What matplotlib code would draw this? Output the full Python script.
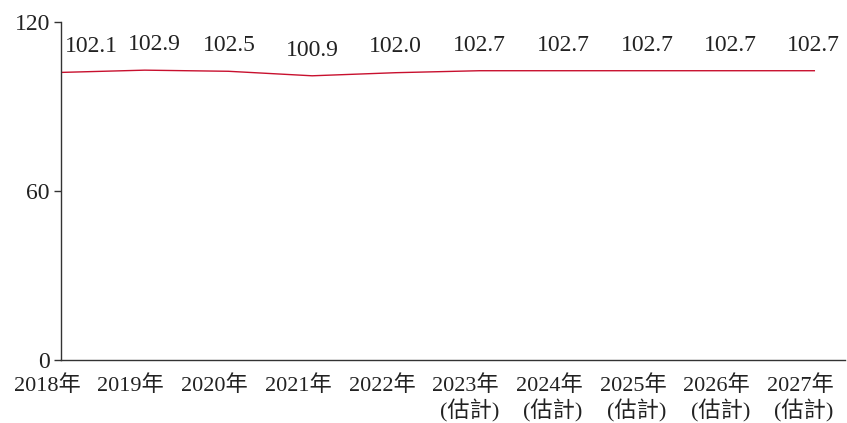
import matplotlib
matplotlib.use("Agg")
import matplotlib.pyplot as plt
import matplotlib.transforms as mtransforms

years = ["2018年", "2019年", "2020年", "2021年", "2022年",
         "2023年\n(估計)", "2024年\n(估計)", "2025年\n(估計)",
         "2026年\n(估計)", "2027年\n(估計)"]
values = [102.1, 102.9, 102.5, 100.9, 102.0, 102.7, 102.7, 102.7, 102.7, 102.7]
yticks = [0, 60, 120]

plt.rcParams["font.family"] = ["Liberation Serif", "Noto Sans CJK TC", "DejaVu Sans"]

fig = plt.figure(figsize=(8.47, 4.23), dpi=100)
ax = fig.add_axes([0.072, 0.149, 0.926, 0.799])

xs = list(range(len(values)))
ax.plot(xs, values, color="#c8102e", lw=1.0)

# label nudges (points) so the first labels clear the axis
label_dx = [22, 7, 1, 0, 0, 0, 0, 0, 0, -1]
for i, v in enumerate(values):
    ax.annotate(f"{v:.1f}", (i, v), xytext=(label_dx[i], 18.5), textcoords="offset points",
                ha="center", va="center", fontsize=17, color="#222222")

ax.set_xlim(0, 9.37)
ax.set_ylim(0, 120)
ax.set_yticks(yticks)
ax.set_yticklabels([str(t) for t in yticks], fontsize=17, color="#222222")
ax.set_xticks(xs)
ax.set_xticklabels(years, fontsize=16, color="#222222", linespacing=1.2)
ax.tick_params(axis="x", length=0, pad=11)
ax.tick_params(axis="y", length=5, width=1, color="#333333", pad=3)

offset = mtransforms.ScaledTranslation(-10 / 72, 0, fig.dpi_scale_trans)
for lbl in ax.get_xticklabels():
    lbl.set_transform(lbl.get_transform() + offset)
    lbl.set_multialignment("right")

for side in ["top", "right"]:
    ax.spines[side].set_visible(False)
for side in ["left", "bottom"]:
    ax.spines[side].set_color("#333333")
    ax.spines[side].set_linewidth(1.0)

fig.savefig("out.png", dpi=100)
